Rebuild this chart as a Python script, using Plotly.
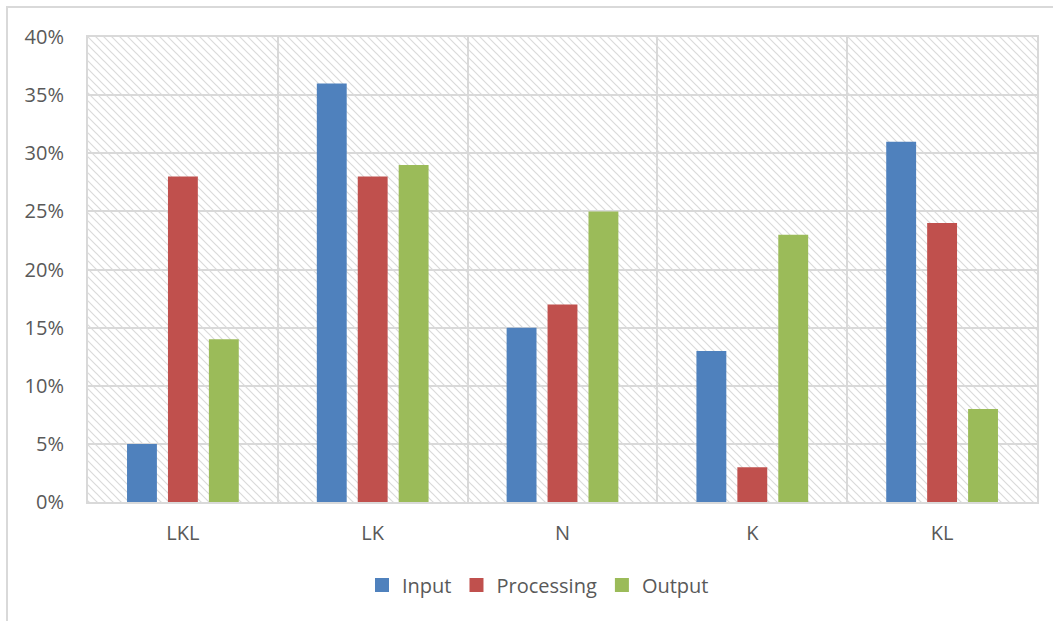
import base64
import plotly.graph_objects as go

# Chart data
categories = ["LKL", "LK", "N", "K", "KL"]
input_vals = [0.05, 0.36, 0.15, 0.13, 0.31]
processing_vals = [0.28, 0.28, 0.17, 0.03, 0.24]
output_vals = [0.14, 0.29, 0.25, 0.23, 0.08]

series = [
    ("Input", input_vals, "#4F81BD"),
    ("Processing", processing_vals, "#C0504D"),
    ("Output", output_vals, "#9BBB59"),
]

# Canvas and plot-area geometry
W, H = 1053, 621
ML, MR, MT, MB = 88, 16, 37, 119
PW, PH = W - ML - MR, H - MT - MB

GRID = "#d9d9d9"
TEXT = "#595959"
FONT = "Open Sans, Lato, sans-serif"
FSIZE = 20

# Diagonal hatch used as the plot-area background
hatch_svg = f"""<svg xmlns='http://www.w3.org/2000/svg' width='{PW}' height='{PH}'>
<defs><pattern id='h' width='8' height='8' patternUnits='userSpaceOnUse'>
<path d='M0,0 L8,8 M-1,7 L1,9 M7,-1 L9,1' stroke='#dadada' stroke-width='1.2'/>
</pattern></defs>
<rect width='100%' height='100%' fill='white'/>
<rect width='100%' height='100%' fill='url(#h)'/>
</svg>"""
hatch_uri = "data:image/svg+xml;base64," + base64.b64encode(hatch_svg.encode()).decode()

fig = go.Figure()
for name, vals, color in series:
    fig.add_trace(go.Bar(
        name=name, x=categories, y=vals, legendgroup=name, showlegend=False,
        marker=dict(color=color, line=dict(width=0)),
    ))
# Legend keys: square swatches
for name, vals, color in series:
    fig.add_trace(go.Scatter(
        name=name, x=[None], y=[None], mode="markers", legendgroup=name,
        marker=dict(symbol="square", size=14, color=color),
    ))

fig.update_layout(
    width=W, height=H,
    margin=dict(l=ML, r=MR, t=MT, b=MB),
    paper_bgcolor="white",
    plot_bgcolor="rgba(0,0,0,0)",
    barmode="group",
    bargap=0.353,
    bargroupgap=0.27,
    font=dict(family=FONT, size=FSIZE, color=TEXT),
    legend=dict(
        orientation="h", xanchor="center", yanchor="middle",
        x=(538 - ML) / PW, y=-(585 - MT - PH) / PH,
        font=dict(size=FSIZE, color=TEXT),
        itemwidth=30, traceorder="normal", itemsizing="trace",
    ),
    images=[dict(
        source=hatch_uri, xref="paper", yref="paper",
        x=0, y=1, sizex=1, sizey=1, xanchor="left", yanchor="top",
        sizing="stretch", layer="below",
    )],
    shapes=[dict(
        type="rect", xref="paper", yref="paper",
        x0=(7 - ML) / PW, x1=(W + 20 - ML) / PW,
        y0=-(H + 20 - MT - PH) / PH, y1=1 + (MT - 7) / PH,
        line=dict(color=GRID, width=2), fillcolor="rgba(0,0,0,0)", layer="below",
    )],
)

fig.update_xaxes(
    type="category", tickson="boundaries",
    showgrid=True, gridcolor=GRID, gridwidth=2,
    showline=True, linecolor=GRID, linewidth=2, mirror=True,
    ticks="", ticklabelstandoff=12,
    tickfont=dict(size=FSIZE, color=TEXT),
)
fig.update_yaxes(
    range=[0, 0.4], dtick=0.05, tickformat=".0%",
    showgrid=True, gridcolor=GRID, gridwidth=2,
    showline=True, linecolor=GRID, linewidth=2, mirror=True,
    zeroline=False,
    ticks="", ticklabelstandoff=18,
    tickfont=dict(size=FSIZE, color=TEXT),
)

fig.write_html("out.html")
